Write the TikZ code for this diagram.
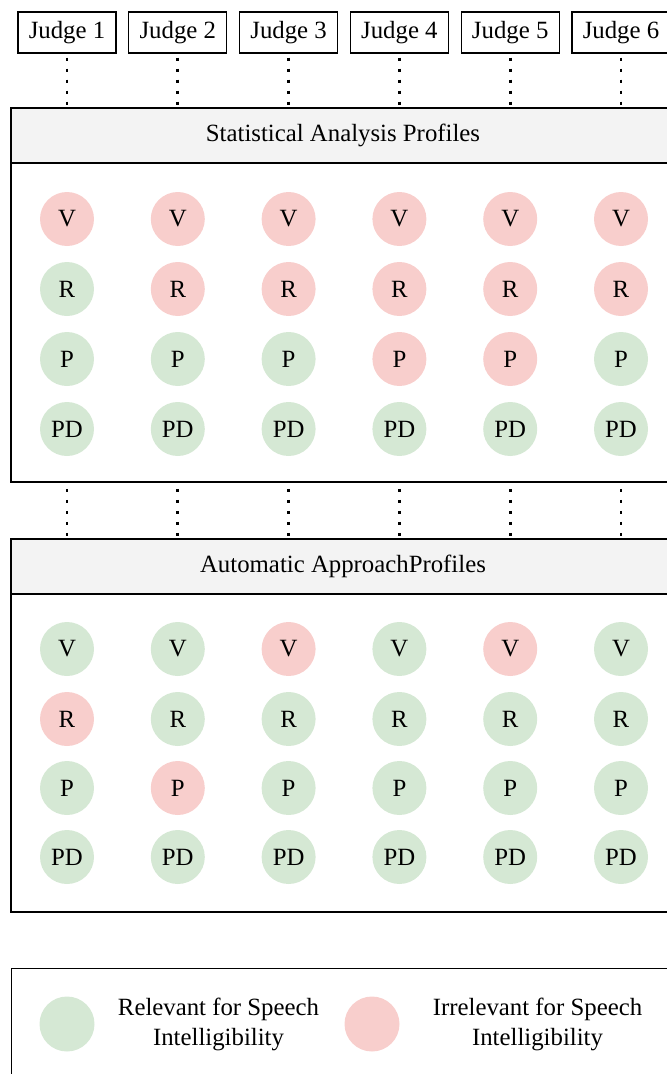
\documentclass[tikz,border=0pt]{standalone}
\usepackage{fontspec}
\setmainfont{Liberation Serif}
\usetikzlibrary{positioning}
\definecolor{relgreen}{HTML}{D5E8D4}
\definecolor{irrred}{HTML}{F8CECC}
\definecolor{hdrgray}{HTML}{F3F3F3}

\begin{document}
\begin{tikzpicture}[x=0.75pt, y=-0.75pt, node distance={83.1pt}, font=\fontsize{18.6}{22.5}\selectfont,
    judge/.style = {draw, line width=0.9pt, minimum width=73.5pt, minimum height=30.75pt, inner sep=0pt},
    hdr/.style = {draw, line width=1pt, fill=hdrgray, minimum width=498pt, minimum height=41.25pt, inner sep=0pt},
    panel/.style = {draw, line width=1pt, minimum width=498pt, minimum height=239.25pt, inner sep=0pt},
    rel/.style = {circle, fill=relgreen, minimum size=40.5pt, inner sep=0pt},
    irr/.style = {circle, fill=irrred, minimum size=40.5pt, inner sep=0pt},
    dots/.style = {line width=2.2pt, dash pattern=on 2.2pt off 6.05pt, dash phase=5.15pt}]
            \useasboundingbox (0,0) rectangle (667,1074);
            \clip (0,0) rectangle (667,1074);
            % judges
            \node[judge] (j1) at (67,32.5) {Judge 1};
            \node[judge] (j2) [right of = j1] {Judge 2};
            \node[judge] (j3) [right of = j2] {Judge 3};
            \node[judge] (j4) [right of = j3] {Judge 4};
            \node[judge] (j5) [right of = j4] {Judge 5};
            \node[judge] (j6) [right of = j5] {Judge 6};
            % statistical analysis
            \node[hdr] (hs) at (343,135.5) {Statistical Analysis Profiles};
            \node[panel] (bs) at (343,322.5) {};
            \node[irr] (sv1) at (67,219) {V};
            \node[irr] (sv2) [right of = sv1] {V};
            \node[irr] (sv3) [right of = sv2] {V};
            \node[irr] (sv4) [right of = sv3] {V};
            \node[irr] (sv5) [right of = sv4] {V};
            \node[irr] (sv6) [right of = sv5] {V};
            \node[rel] (sr1) at (67,289) {R};
            \node[irr] (sr2) [right of = sr1] {R};
            \node[irr] (sr3) [right of = sr2] {R};
            \node[irr] (sr4) [right of = sr3] {R};
            \node[irr] (sr5) [right of = sr4] {R};
            \node[irr] (sr6) [right of = sr5] {R};
            \node[rel] (sp1) at (67,359) {P};
            \node[rel] (sp2) [right of = sp1] {P};
            \node[rel] (sp3) [right of = sp2] {P};
            \node[irr] (sp4) [right of = sp3] {P};
            \node[irr] (sp5) [right of = sp4] {P};
            \node[rel] (sp6) [right of = sp5] {P};
            \node[rel] (sd1) at (67,429) {PD};
            \node[rel] (sd2) [right of = sd1] {PD};
            \node[rel] (sd3) [right of = sd2] {PD};
            \node[rel] (sd4) [right of = sd3] {PD};
            \node[rel] (sd5) [right of = sd4] {PD};
            \node[rel] (sd6) [right of = sd5] {PD};
            % automatic approach
            \node[hdr] (ha) at (343,566.5) {Automatic ApproachProfiles};
            \node[panel, minimum height=238.5pt] (ba) at (343,753) {};
            \node[rel] (av1) at (67,649) {V};
            \node[rel] (av2) [right of = av1] {V};
            \node[irr] (av3) [right of = av2] {V};
            \node[rel] (av4) [right of = av3] {V};
            \node[irr] (av5) [right of = av4] {V};
            \node[rel] (av6) [right of = av5] {V};
            \node[irr] (ar1) at (67,719) {R};
            \node[rel] (ar2) [right of = ar1] {R};
            \node[rel] (ar3) [right of = ar2] {R};
            \node[rel] (ar4) [right of = ar3] {R};
            \node[rel] (ar5) [right of = ar4] {R};
            \node[rel] (ar6) [right of = ar5] {R};
            \node[rel] (ap1) at (67,788) {P};
            \node[irr] (ap2) [right of = ap1] {P};
            \node[rel] (ap3) [right of = ap2] {P};
            \node[rel] (ap4) [right of = ap3] {P};
            \node[rel] (ap5) [right of = ap4] {P};
            \node[rel] (ap6) [right of = ap5] {P};
            \node[rel] (ad1) at (67,857) {PD};
            \node[rel] (ad2) [right of = ad1] {PD};
            \node[rel] (ad3) [right of = ad2] {PD};
            \node[rel] (ad4) [right of = ad3] {PD};
            \node[rel] (ad5) [right of = ad4] {PD};
            \node[rel] (ad6) [right of = ad5] {PD};
            % dotted links
            \draw[dots] (j1) -- (j1 |- hs.north);
            \draw[dots] (j2) -- (j2 |- hs.north);
            \draw[dots] (j3) -- (j3 |- hs.north);
            \draw[dots] (j4) -- (j4 |- hs.north);
            \draw[dots] (j5) -- (j5 |- hs.north);
            \draw[dots] (j6) -- (j6 |- hs.north);
            \draw[dots, dash phase=3.65pt] (sd1 |- bs.south) -- (sd1 |- ha.north);
            \draw[dots, dash phase=3.65pt] (sd2 |- bs.south) -- (sd2 |- ha.north);
            \draw[dots, dash phase=3.65pt] (sd3 |- bs.south) -- (sd3 |- ha.north);
            \draw[dots, dash phase=3.65pt] (sd4 |- bs.south) -- (sd4 |- ha.north);
            \draw[dots, dash phase=3.65pt] (sd5 |- bs.south) -- (sd5 |- ha.north);
            \draw[dots, dash phase=3.65pt] (sd6 |- bs.south) -- (sd6 |- ha.north);
            % legend
            \node[draw, line width=1pt, minimum width=498pt, minimum height=97.5pt, anchor=north west] (leg) at (11,968) {};
            \node[rel, minimum size=41.25pt] (lg) at (67,1024) {};
            \node[align=center] (lgt) at (218.5,1024) {Relevant for Speech\\Intelligibility};
            \node[irr, minimum size=41.25pt] (lr) at (372,1024) {};
            \node[align=center] (lrt) at (537.5,1024) {Irrelevant for Speech\\Intelligibility};
        \end{tikzpicture}
\end{document}
